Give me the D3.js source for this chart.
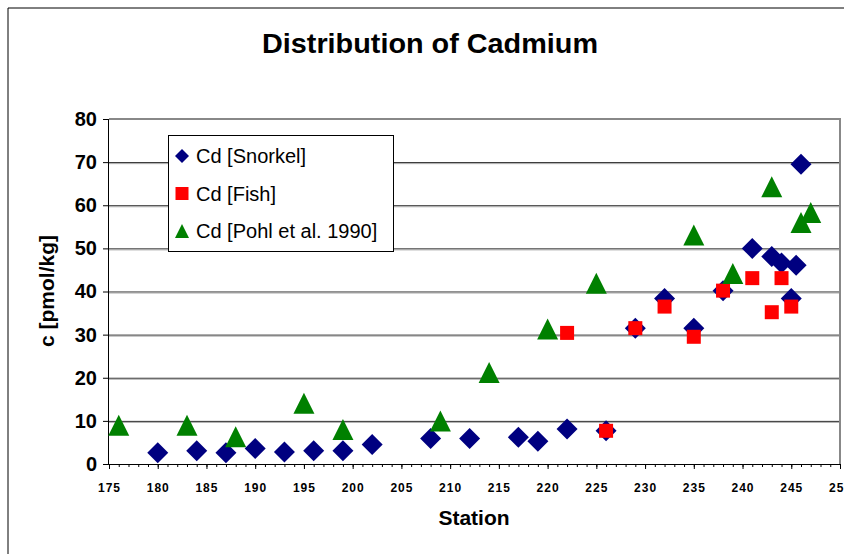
<!DOCTYPE html>
<html><head><meta charset="utf-8">
<script src="https://cdn.jsdelivr.net/npm/d3@7"></script>
<style>body{margin:0;background:#fff} text{font-family:"Liberation Sans",Arial,sans-serif}</style>
</head><body><svg id="c" width="844" height="554"></svg>
<script>
const chartTitle = "Distribution of Cadmium";
const xTitle = "Station";
const yTitle = "c [pmol/kg]";
const xTicks = [175,180,185,190,195,200,205,210,215,220,225,230,235,240,245,250];
const yTicks = [0,10,20,30,40,50,60,70,80];
const seriesNames = ["Cd [Snorkel]","Cd [Fish]","Cd [Pohl et al. 1990]"];
const snorkelStation = [180,184,187,190,193,196,199,202,208,212,217,219,222,226,229,232,235,238,241,243,244,245,245.5,246];
const snorkelCd      = [2.6,3.1,2.6,3.6,2.8,3.1,3.1,4.5,5.9,5.9,6.2,5.3,8.1,7.7,31.5,38.4,31.5,40.2,50.0,48.1,46.6,38.4,46.1,69.5];
const fishStation = [222,226,229,232,235,238,241,243,244,245];
const fishCd      = [30.4,7.7,31.5,36.5,29.5,40.2,43.1,35.2,43.1,36.5];
const pohlStation = [176,183,188,195,199,209,214,220,225,235,239,243,246,247];
const pohlCd      = [9.0,9.0,6.3,14.1,8.0,10.0,21.2,31.3,41.9,53.1,44.2,64.3,56.0,58.3];

const svg = d3.select("#c");
const L = 109, R = 840, T = 119, B = 464;
const x = d3.scaleLinear().domain([175,250]).range([L,R]);
const y = d3.scaleLinear().domain([0,80]).range([B,T]);

// outer frame
svg.append("path").attr("d","M8,560V8H850").attr("fill","none").attr("stroke","#000").attr("stroke-width",1);

// title
svg.append("text").attr("x",430).attr("y",53).attr("text-anchor","middle")
  .attr("font-size",28).attr("font-weight","bold").attr("textLength",336).attr("lengthAdjust","spacingAndGlyphs")
  .text(chartTitle);

// gridlines
const g = svg.append("g");
yTicks.filter(v=>v>0 && v<80).forEach(v=>{
  g.append("line").attr("x1",L).attr("x2",R).attr("y1",y(v)+0.5).attr("y2",y(v)+0.5).attr("stroke","#222");
  g.append("line").attr("x1",L).attr("x2",R).attr("y1",y(v)+1.5).attr("y2",y(v)+1.5).attr("stroke","#aaa");
});
// plot border top/right
g.append("path").attr("d",`M${L},${T}H${R}V${B}`).attr("fill","none").attr("stroke","#888").attr("stroke-width",2);

// axes
const xAxisMinor = d3.axisBottom(x).tickValues(d3.range(175,251,1)).tickSize(3).tickFormat("");
svg.append("g").attr("transform",`translate(0,${B})`).call(xAxisMinor)
  .call(s=>s.select(".domain").remove()).selectAll("line").attr("stroke","#000");
const xAxis = d3.axisBottom(x).tickValues(xTicks).tickSize(5).tickPadding(14).tickFormat(d3.format("d"));
const xa = svg.append("g").attr("transform",`translate(0,${B})`).call(xAxis);
xa.select(".domain").attr("d",`M${L},0.5H${R}`).attr("stroke","#000");
xa.selectAll("text").attr("font-size",12).attr("font-weight","bold").attr("letter-spacing","1px")
  .attr("fill","#000").style("font-family","'Liberation Sans',Arial,sans-serif");

const yAxis = d3.axisLeft(y).tickValues(yTicks).tickSize(6).tickPadding(6);
const ya = svg.append("g").attr("transform",`translate(${L},0)`).call(yAxis);
ya.select(".domain").attr("d",`M-0.5,${T}V${B}`).attr("stroke","#000");
ya.selectAll("text").attr("font-size",20).attr("font-weight","bold").attr("fill","#000")
  .style("font-family","'Liberation Sans',Arial,sans-serif");

// axis titles
svg.append("text").attr("x",474).attr("y",525).attr("text-anchor","middle")
  .attr("font-size",21).attr("font-weight","bold").text(xTitle);
svg.append("text").attr("transform","translate(54,291) rotate(-90)").attr("text-anchor","middle")
  .attr("font-size",21).attr("font-weight","bold").text(yTitle);

// marker paths
const diamond = r => `M0,${-r}L${r},0L0,${r}L${-r},0Z`;
const square = h => `M${-h},${-h}H${h}V${h}H${-h}Z`;
const triangle = (w,h) => `M0,${-h/2}L${w/2},${h/2}L${-w/2},${h/2}Z`;

const plot = svg.append("g");
plot.selectAll(".sn").data(d3.zip(snorkelStation,snorkelCd)).join("path")
  .attr("transform",d=>`translate(${x(d[0])},${y(d[1])})`).attr("d",diamond(10.5)).attr("fill","#000080");
plot.selectAll(".fi").data(d3.zip(fishStation,fishCd)).join("path")
  .attr("transform",d=>`translate(${x(d[0])},${y(d[1])})`).attr("d",square(7)).attr("fill","#ff0000");
plot.selectAll(".po").data(d3.zip(pohlStation,pohlCd)).join("path")
  .attr("transform",d=>`translate(${x(d[0])},${y(d[1])})`).attr("d",triangle(21,21)).attr("fill","#008000");

// legend
const lg = svg.append("g");
lg.append("rect").attr("x",168.5).attr("y",135.5).attr("width",225).attr("height",116)
  .attr("fill","#fff").attr("stroke","#000");
const legMarks = [diamond(7), square(6.5), triangle(14,14)];
const legCols = ["#000080","#ff0000","#008000"];
seriesNames.forEach((n,i)=>{
  const cy = 156 + i*37.5;
  lg.append("path").attr("transform",`translate(182,${cy})`).attr("d",legMarks[i]).attr("fill",legCols[i]);
  lg.append("text").attr("x",196).attr("y",cy+7).attr("font-size",20).text(n);
});
</script></body></html>
